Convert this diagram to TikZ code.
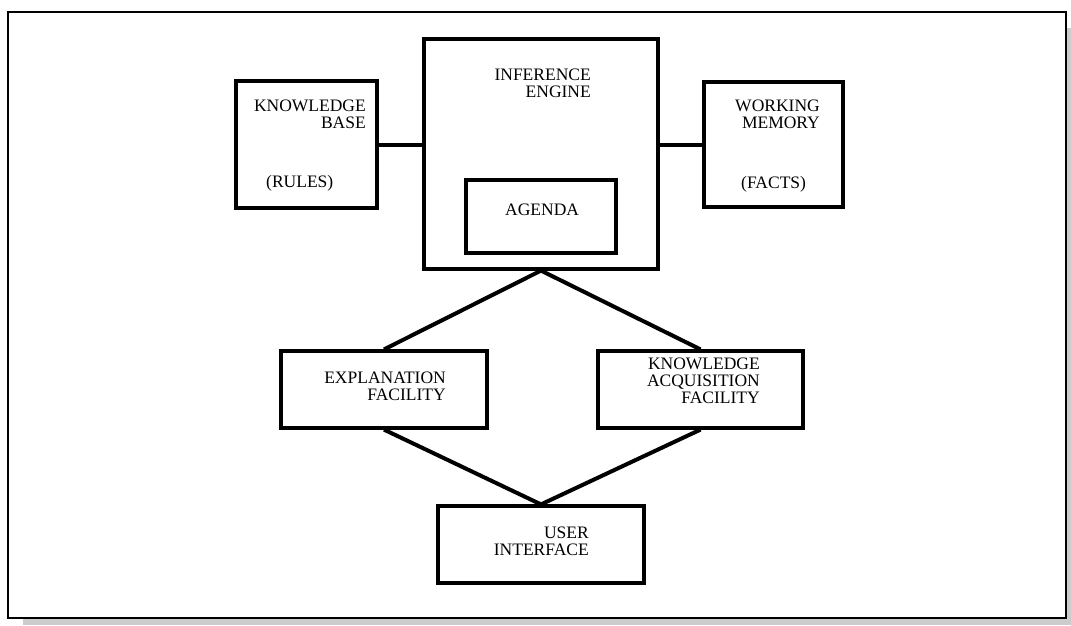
\documentclass[tikz,border=0pt]{standalone}
\usepackage{fontspec}
\setmainfont{Liberation Serif}
\tikzset{
    box/.style={draw, line width=3.2pt, inner sep=0pt},
    lbl/.style={inner sep=0pt, align=right, font=\fontsize{17.5}{17}\selectfont},
    link/.style={line width=4pt}
}
\begin{document}
\begin{tikzpicture}[x=1pt, y=-1pt]
    \useasboundingbox (0,0) rectangle (1071,625);
    % frame with its shadow
    \fill [gray!40] (23,28) rectangle (1071,625);
    \draw [fill=white, line width=2pt] (7.5,11.5) rectangle (1066,618);

    % boxes
    \node [box, minimum width=141pt, minimum height=127pt] (kb) at (306.5,144.5) {};
    \node [box, minimum width=234pt, minimum height=230pt] (ie) at (541,154) {};
    \node [box, minimum width=150pt, minimum height=73pt] (agenda) at (541,216.5) {};
    \node [box, minimum width=139pt, minimum height=125pt] (wm) at (773.5,144.5) {};
    \node [box, minimum width=206pt, minimum height=77pt] (ef) at (384,389.5) {};
    \node [box, minimum width=205pt, minimum height=77pt] (kaf) at (700.5,389.5) {};
    \node [box, minimum width=206pt, minimum height=77pt] (ui) at (541,544.5) {};

    % texts (base = last line)
    \node [lbl, anchor=base east] (kbtext) at (366,128) {KNOWLEDGE\\BASE};
    \node [lbl, anchor=base west] (rules) at (266,187) {(RULES)};
    \node [lbl, anchor=base east] (ietext) at (591,97) {INFERENCE\\ENGINE};
    \node [lbl, anchor=base west] (agendatext) at (505,215) {AGENDA};
    \node [lbl, anchor=base east] (wmtext) at (820,128) {WORKING\\MEMORY};
    \node [lbl, anchor=base west] (facts) at (741,188) {(FACTS)};
    \node [lbl, anchor=base east] (eftext) at (446,400) {EXPLANATION\\FACILITY};
    \node [lbl, anchor=base east] (kaftext) at (760,403) {KNOWLEDGE\\ACQUISITION\\FACILITY};
    \node [lbl, anchor=base east] (uitext) at (589,555) {USER\\INTERFACE};

    % connectors
    \draw [link] (kb.east) -- (kb.east -| ie.west);
    \draw [link] (wm.west) -- (wm.west -| ie.east);
    \draw [link] (ef.north) -- (ie.south) -- (kaf.north);
    \draw [link] (ef.south) -- (ui.north) -- (kaf.south);
\end{tikzpicture}
\end{document}
